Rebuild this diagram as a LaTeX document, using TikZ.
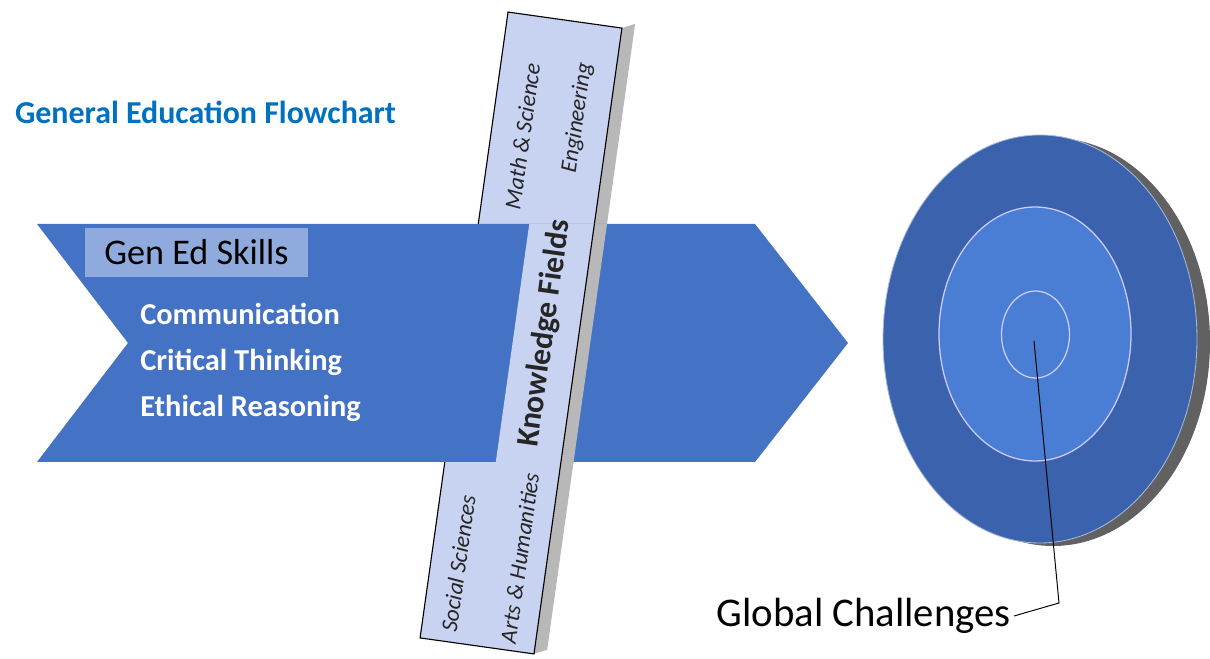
\documentclass[tikz,border=0pt]{standalone}
\usepackage{fontspec}
\setmainfont{Carlito}
\usetikzlibrary{positioning}
\definecolor{titleblue}{RGB}{0,112,192}
\definecolor{chevblue}{RGB}{68,114,196}
\definecolor{barfill}{RGB}{200,211,242}
\definecolor{skillfill}{RGB}{143,170,220}
\definecolor{ringdark}{RGB}{59,98,172}
\definecolor{ringlight}{RGB}{74,125,212}

\begin{document}
\begin{tikzpicture}[x=0.025cm,y=0.025cm]
\tikzstyle{chevron} = [fill=chevblue, draw=none];
\tikzstyle{bar} = [fill=barfill, draw=black, line width=0.8pt];
\tikzstyle{barside} = [fill=black!28, draw=none];
\tikzstyle{bartext} = [font=\itshape\fontsize{16.5}{18}\selectfont, text=black!85, transform shape];
\tikzstyle{skillbox} = [fill=skillfill, minimum width=5.575cm, minimum height=1.225cm,
font=\fontsize{25.7}{28}\selectfont];
\tikzstyle{skill} = [font=\bfseries\fontsize{21.6}{32.7}\selectfont, text=white, align=left, inner sep=0pt];
\tikzstyle{ring} = [draw=white!80!blue, line width=0.9pt, fill=ringlight];
\useasboundingbox (0,0) rectangle (1210,658);

\node[font=\bfseries\fontsize{22.7}{26}\selectfont, text=titleblue] (title) at (205.5,546) {General Education Flowchart};

% knowledge bar, behind the arrow
\begin{scope}[shift={(521,325)}, rotate=82]
\fill[barside] (-316,-57.5) -- (316,-57.5) -- (322,-70) -- (-310,-70) -- cycle;
\draw[bar] (-316,-57.5) rectangle (316,57.5);
\end{scope}

% arrow
\fill[chevron] (37,434) -- (755,434) -- (848,315) -- (755,196) -- (37,196) -- (128,315) -- cycle;

% part of the bar in front of the arrow
\begin{scope}
\clip (37,434) -- (755,434) -- (848,315) -- (755,196) -- (37,196) -- (128,315) -- cycle;
\begin{scope}[shift={(521,325)}, rotate=82]
\fill[barside] (-316,-57.5) -- (316,-57.5) -- (322,-70) -- (-310,-70) -- cycle;
\fill[barfill] (-316,-57.5) rectangle (316,7);
\draw[black, line width=0.8pt] (-316,-57.5) -- (316,-57.5);
\end{scope}
\end{scope}

\begin{scope}[shift={(521,325)}, rotate=82]
\node[bartext] (math) at (195,26) {Math \& Science};
\node[bartext] (eng) at (221,-26) {Engineering};
\node[bartext] (soc) at (-237,30) {Social Sciences};
\node[bartext] (arts) at (-223,-30) {Arts \& Humanities};
\node[bartext, font=\bfseries\fontsize{22.5}{26}\selectfont] (fields) at (3,-24) {Knowledge Fields};
\end{scope}

% skills
\node[skillbox] (skills) at (196.5,405.5) {Gen Ed Skills};
\node[skill, anchor=west] (list) at (140,296) {Communication\\Critical Thinking\\Ethical Reasoning};

% target
\fill[black!62] (1053,316) ellipse (157 and 204);
\filldraw[fill=ringdark, draw=white!55!ringdark, line width=0.6pt] (1040,319) ellipse (157 and 204);
\path[ring] (1035,324) ellipse (96 and 127);
\path[ring] (1035.5,323.5) ellipse (34 and 43.5);

\coordinate (bull) at (1034,317);
\coordinate (bend) at (1059,55);
\node[font=\fontsize{29}{32}\selectfont, inner sep=2pt, anchor=east] (gc) at (1014,42) {Global Challenges};
\draw[black, line width=0.7pt] (bull) -- (bend) -- (gc.east);

\end{tikzpicture}
\end{document}
